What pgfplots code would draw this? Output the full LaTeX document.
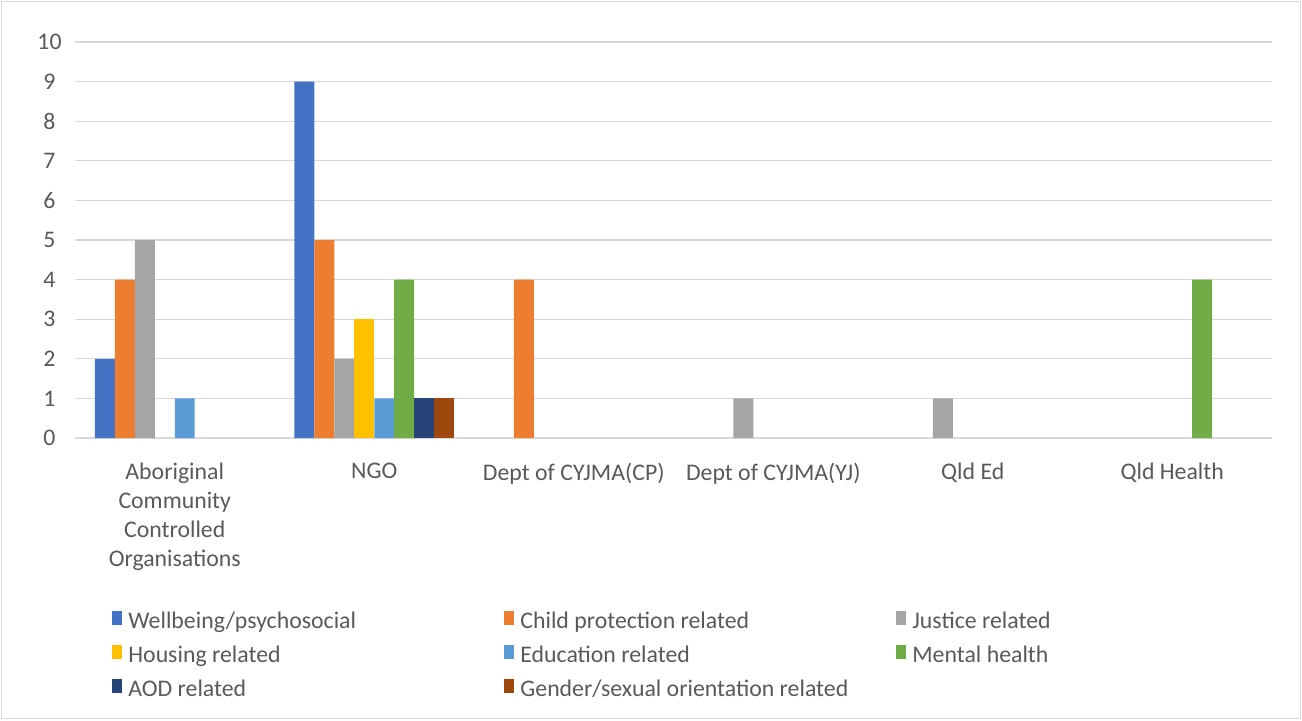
\documentclass[border=0pt]{standalone}
\usepackage{fontspec}
\setmainfont{Carlito}
\usepackage{pgfplots}
\pgfplotsset{compat=1.18}

\definecolor{cA}{HTML}{4472C4}
\definecolor{cB}{HTML}{ED7D31}
\definecolor{cC}{HTML}{A5A5A5}
\definecolor{cD}{HTML}{FFC000}
\definecolor{cE}{HTML}{5B9BD5}
\definecolor{cF}{HTML}{70AD47}
\definecolor{cG}{HTML}{264478}
\definecolor{cH}{HTML}{9E480E}
\definecolor{gridc}{HTML}{D9D9D9}
\definecolor{txt}{HTML}{595959}

\newcommand{\lab}[1]{\makebox[188pt][l]{\rule[-5.5pt]{0pt}{17pt}#1}}

\begin{document}
\begin{tikzpicture}
\path[use as bounding box] (0,0) rectangle (651pt,360pt);
\begin{axis}[
  at={(37.5pt,141pt)}, anchor=south west,
  scale only axis, width=598.5pt, height=198pt,
  xmin=0, xmax=6, ymin=0, ymax=10,
  ytick={0,1,...,10},
  xtick={0.5,1.5,2.5,3.5,4.5,5.5},
  xticklabels={{Aboriginal\\Community\\Controlled\\Organisations},NGO,{Dept of CYJMA(CP)},{Dept of CYJMA(YJ)},{Qld Ed},{Qld Health}},
  axis line style={draw=none},
  major tick length=0pt,
  ymajorgrids, grid style={draw=gridc, line width=0.65pt},
  font=\fontsize{11.9pt}{14.5pt}\selectfont,
  /pgf/number format/assume math mode=true,
  ticklabel style={text=txt},
  xticklabel style={align=center, inner sep=0pt, yshift=-12.5pt},
  yticklabel style={anchor=center, inner sep=0pt, xshift=-12.75pt},
  ybar, bar width=0.1,
  legend columns=3,
  legend cell align=left,
  legend image code/.code={\fill[#1] (0pt,-3.5pt) rectangle (5pt,3.5pt);},
  legend style={at={(0.0309,-0.421)}, anchor=north west, draw=none, fill=none,
    inner sep=0pt, text=txt, row sep=4pt,
    nodes={inner sep=0pt},
    /tikz/every odd column/.style={column sep=3pt}},
]
\addplot[fill=cA, draw=none, bar shift=-0.35] coordinates {(0.5,2) (1.5,9)};
\addlegendentry{\lab{Wellbeing/psychosocial}}
\addplot[fill=cB, draw=none, bar shift=-0.25] coordinates {(0.5,4) (1.5,5) (2.5,4)};
\addlegendentry{\lab{Child protection related}}
\addplot[fill=cC, draw=none, bar shift=-0.15] coordinates {(0.5,5) (1.5,2) (3.5,1) (4.5,1)};
\addlegendentry{\lab{Justice related}}
\addplot[fill=cD, draw=none, bar shift=-0.05] coordinates {(1.5,3)};
\addlegendentry{\lab{Housing related}}
\addplot[fill=cE, draw=none, bar shift=0.05] coordinates {(0.5,1) (1.5,1)};
\addlegendentry{\lab{Education related}}
\addplot[fill=cF, draw=none, bar shift=0.15] coordinates {(1.5,4) (5.5,4)};
\addlegendentry{\lab{Mental health}}
\addplot[fill=cG, draw=none, bar shift=0.25] coordinates {(1.5,1)};
\addlegendentry{\lab{AOD related}}
\addplot[fill=cH, draw=none, bar shift=0.35] coordinates {(1.5,1)};
\addlegendentry{\lab{Gender/sexual orientation related}}
\end{axis}
\draw[gridc, line width=0.75pt] (0.75pt,0.75pt) rectangle (650.25pt,359.25pt);
\end{tikzpicture}
\end{document}
